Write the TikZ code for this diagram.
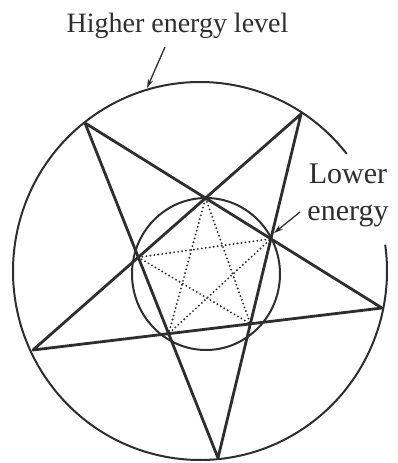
\documentclass[tikz,border=0pt]{standalone}
\usepackage{fontspec}
\setmainfont{Liberation Serif}
\usetikzlibrary{arrows.meta}
\definecolor{ink}{HTML}{2E2E2E}
\tikzset{
  starline/.style={draw=ink, line width=2.8pt, line join=round},
  ringline/.style={draw=ink, line width=2pt},
  dotline/.style={draw=ink, line width=2.1pt, line cap=round, dash pattern=on 0pt off 4pt},
  pointer/.style={draw=ink, line width=1.3pt, -{Stealth[length=9pt,width=5.5pt]}},
  lbl/.style={text=ink, inner sep=0pt}
}
\begin{document}
\begin{tikzpicture}[x=1pt,y=-1pt]
\useasboundingbox (0,0) rectangle (397,463);
% big circle with a gap at the right
\draw[ringline] (200,271) ++(38.3:187 and -189) arc[start angle=38.3, end angle=368, x radius=187, y radius=-189];
% small circle
\draw[ringline] (206,274) ellipse[x radius=74, y radius=76];
% outer star vertices
\coordinate (A) at (85,123);
\coordinate (B) at (301,114);
\coordinate (C) at (382,308);
\coordinate (D) at (218,458);
\coordinate (E) at (33,350);
% inner pentagon
\coordinate (P1) at (intersection of A--C and B--E);
\coordinate (P2) at (intersection of A--C and B--D);
\coordinate (P3) at (intersection of B--D and C--E);
\coordinate (P4) at (intersection of C--E and A--D);
\coordinate (P5) at (intersection of A--D and B--E);
% dotted inner star
\draw[dotline] (P1) -- (P3) -- (P5) -- (P2) -- (P4) -- cycle;
% outer star
\draw[starline] (A) -- (C) -- (E) -- (B) -- (D) -- cycle;
% labels
\node[lbl, anchor=base] (high) at (177.5,32) {\fontsize{28}{34}\selectfont Higher energy level};
\node[lbl, anchor=base, align=center, font=\fontsize{30}{37}\selectfont] (low) at (348,220) {Lower\\energy};
% pointers
\coordinate (hTail) at (165,47);
\coordinate (hTip) at (147,88);
\coordinate (lTail) at (300,212);
\coordinate (lTip) at (274,233);
\draw[pointer] (hTail) -- (hTip);
\draw[pointer] (lTail) -- (lTip);
\end{tikzpicture}
\end{document}
